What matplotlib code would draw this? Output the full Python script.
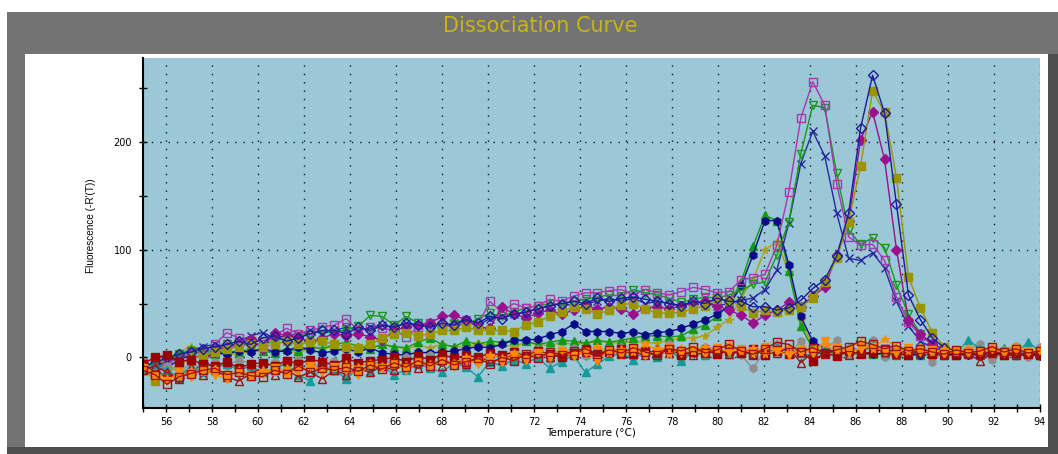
import matplotlib
matplotlib.use('Agg')
import matplotlib.pyplot as plt
from matplotlib.patches import Rectangle
from matplotlib.ticker import MultipleLocator
import numpy as np

# instrument temperature steps (deg C)
temps = np.round(np.linspace(55, 94, 76), 2)

# --- peaked wells ---
sq_mag = [
    -5, -10, -6, 0, 3, 5, 12, 23, 18, 15,
    15, 20, 27, 22, 25, 28, 30, 36, 25, 28,
    27, 25, 19, 28, 32, 30, 28, 35, 30, 52,
    42, 50, 46, 48, 54, 52, 57, 60, 60, 62,
    63, 58, 63, 60, 58, 61, 65, 63, 60, 61,
    72, 74, 77, 104, 154, 222, 256, 234, 161, 112,
    104, 105, 90, 56, 33, 20, 12, 8, 6, 5,
    5, 4, 5, 3, 4, 3]
tri_grn = [
    -8, -5, -2, 3, 6, 4, 8, 12, 10, 14,
    12, 15, 18, 20, 22, 25, 23, 26, 29, 39,
    38, 30, 38, 32, 30, 28, 31, 30, 36, 41,
    38, 42, 46, 48, 50, 49, 52, 54, 56, 58,
    57, 63, 60, 58, 55, 51, 54, 56, 55, 58,
    62, 68, 70, 95, 126, 189, 234, 232, 171, 118,
    105, 111, 102, 67, 40, 22, 12, 8, 6, 5,
    4, 5, 3, 4, 3, 4]
x_navy = [
    -12, -8, -4, 2, 6, 10, 12, 8, 15, 20,
    23, 18, 20, 22, 25, 22, 25, 28, 25, 28,
    30, 28, 32, 30, 30, 28, 32, 35, 30, 36,
    38, 40, 42, 45, 48, 50, 48, 50, 52, 55,
    52, 55, 50, 52, 50, 48, 52, 50, 48, 50,
    53, 55, 63, 81, 125, 180, 210, 187, 134, 92,
    90, 97, 83, 52, 29, 15, 9, 6, 5, 4,
    4, 3, 4, 3, 3, 2]
dia_navy = [
    -8, -5, 0, 3, 5, 8, 10, 12, 15, 12,
    18, 20, 15, 18, 22, 25, 25, 22, 28, 25,
    30, 28, 32, 30, 28, 32, 30, 35, 32, 38,
    36, 40, 42, 45, 48, 50, 52, 50, 55, 52,
    55, 56, 54, 52, 50, 48, 52, 50, 55, 52,
    52, 47, 47, 44, 46, 53, 64, 72, 94, 134,
    213, 262, 227, 142, 58, 35, 18, 9, 6, 5,
    4, 3, 4, 3, 3, 2]
sq_olive = [
    -10, -22, -12, -8, 0, 1, 5, 8, 10, 12,
    10, 12, 15, 12, 14, 15, 12, 10, 9, 12,
    18, 22, 23, 20, 22, 25, 25, 28, 25, 25,
    25, 24, 30, 33, 38, 42, 47, 45, 40, 44,
    49, 50, 45, 41, 41, 42, 45, 48, 54, 52,
    48, 41, 44, 42, 44, 47, 55, 70, 92, 126,
    178, 247, 228, 167, 75, 46, 23, 10, 6, 4,
    4, 3, 4, 3, 3, 2]
dia_mag = [
    -5, -14, -16, -19, -15, -5, 6, 10, 12, 17,
    8, 23, 20, 19, 14, 18, 22, 20, 22, 19,
    16, 25, 28, 30, 32, 38, 39, 35, 28, 27,
    47, 40, 37, 41, 44, 40, 44, 48, 45, 47,
    45, 40, 46, 47, 45, 48, 50, 52, 48, 44,
    39, 32, 39, 44, 51, 47, 57, 65, 95, 127,
    202, 228, 184, 100, 35, 22, 12, 7, 5, 4,
    3, 4, 3, 3, 2, 3]
hex_navy = [
    -8, -12, -10, -2, 2, 0, 4, 3, 6, 5,
    8, 5, 6, 10, 7, 4, 6, 8, 5, 9,
    4, 3, 2, 5, 4, 5, 6, 8, 10, 9,
    12, 16, 16, 17, 21, 24, 31, 24, 24, 24,
    22, 24, 21, 23, 24, 27, 31, 35, 40, 48,
    66, 95, 127, 127, 86, 38, 15, 8, 5, 4,
    4, 3, 4, 3, 3, 2, 3, 2, 3, 2,
    3, 2, 2, 3, 2, 2]
tri_grn_f = [
    -6, -10, -5, 2, 8, 5, 3, 6, 5, 8,
    6, 4, 8, 6, 10, 8, 12, 14, 10, 8,
    12, 10, 9, 14, 18, 12, 10, 15, 12, 15,
    14, 16, 15, 12, 14, 16, 15, 13, 16, 14,
    16, 18, 20, 20, 19, 20, 26, 30, 38, 49,
    70, 103, 132, 127, 80, 29, 8, 5, 4, 3,
    4, 3, 3, 2, 3, 2, 3, 2, 2, 3,
    2, 3, 2, 2, 3, 2]
star_olive = [
    -4, -8, -2, 5, 10, 8, 5, 4, 2, 6,
    5, 8, 6, 4, 9, 8, 10, 7, 10, 9,
    12, 10, 8, 11, 9, 12, 10, 9, 13, 11,
    12, 10, 14, 12, 11, 14, 12, 13, 15, 14,
    13, 15, 14, 13, 16, 18, 18, 20, 28, 35,
    55, 72, 100, 107, 79, 35, 10, 6, 4, 3,
    3, 4, 2, 3, 2, 3, 2, 2, 3, 2,
    2, 3, 2, 2, 3, 2]

# --- flat wells (no product) ---
star_orange = [
    -8, -15, -20, -18, -12, -14, -10, -15, -12, -16,
    -12, -14, -10, -13, -8, -12, -10, -6, -9, -5,
    -8, -4, -7, -3, -6, -2, -5, 0, -3, 2,
    -1, 4, 0, 5, 2, 8, 3, 6, 10, 4,
    8, 5, 12, 7, 3, 9, 6, 10, 8, 12,
    5, 9, 3, 7, 10, 4, 8, 12, 6, 9,
    14, 8, 17, 10, 6, 9, 4, 8, 5, 9,
    6, 10, 7, 11, 6, 8]
vtri_orange = [
    -10, -18, -22, -14, -18, -12, -16, -20, -14, -18,
    -15, -10, -16, -12, -8, -14, -9, -12, -16, -7,
    -10, -6, -12, -4, -9, -3, -8, -2, -6, -1,
    -4, 2, -2, 4, 0, 6, 1, 5, -3, 7,
    3, 8, 2, 6, 10, 4, 7, 3, 9, 5,
    8, 4, 10, 6, 2, 7, 4, 15, 9, 5,
    8, 10, 6, 4, 9, 5, 7, 3, 6, 4,
    5, 8, 4, 7, 5, 6]
sq_red_open = [
    -12, -16, -25, -18, -15, -12, -10, -16, -14, -17,
    -18, -12, -15, -8, -14, -10, -12, -9, -13, -7,
    -11, -5, -9, -3, -8, -2, -7, -4, -1, -6,
    0, -3, 3, -1, 5, 2, 6, 8, 3, 7,
    4, 9, 5, 2, 8, 6, 10, 4, 7, 12,
    6, 3, 8, 14, 12, 5, 9, 4, 7, 10,
    15, 12, 8, 11, 6, 8, 5, 3, 7, 4,
    6, 10, 5, 8, 4, 6]
sq_red = [
    -6, 0, 2, -4, -2, -6, -8, -4, -10, -6,
    -5, -8, -3, -6, -2, -4, -7, -1, -5, -3,
    -2, 0, -4, 1, -2, 3, -1, 2, 0, 4,
    2, 5, 1, 6, 3, 0, 4, 7, 2, 5,
    8, 3, 6, 4, 9, 2, 5, 7, 3, 6,
    4, 8, 2, 6, 3, 5, -3, 4, 1, 6,
    3, 5, 8, 4, 2, 6, 3, 5, 2, 4,
    3, 5, 2, 4, 3, 2]
tri_teal = [
    -10, -6, -12, -18, -8, -14, -10, -6, -12, -8,
    -14, -10, -6, -16, -22, -8, -12, -20, -10, -14,
    -8, -16, -12, -6, -10, -14, -5, -9, -18, -4,
    -8, -2, -6, 0, -10, -4, 2, -14, -6, 1,
    4, -2, 6, 0, 8, -3, 5, 2, 7, 3,
    5, 8, 2, 10, 6, 4, 1, 8, 3, 10,
    6, 12, 4, 9, 2, 7, 3, 6, 4, 16,
    8, 5, 9, 4, 14, 6]
hex_gray = [
    -4, -12, -8, -14, -6, -10, -4, -8, -2, -6,
    -10, -4, -8, -2, -6, -10, -3, -20, -5, -8,
    -2, -6, 0, -4, 2, -2, -8, 1, -4, 3,
    -1, 5, 2, 8, -2, 4, 9, 1, 6, 3,
    10, 0, 7, 3, 12, -2, 6, 10, 4, 8,
    2, -10, 6, 12, 3, 15, 0, 8, 16, 2,
    5, 16, 0, 4, 3, 10, -4, 7, 2, 8,
    12, -2, 5, 11, 0, 10]
tri_red_open = [
    -12, -8, -14, -20, -10, -16, -12, -18, -22, -15,
    -10, -16, -12, -18, -14, -20, -12, -16, -10, -14,
    -8, -12, -6, -10, -4, -8, -2, -6, 0, -3,
    -2, 3, -1, 4, 0, 6, 2, 5, 1, 7,
    3, 6, 2, 8, 4, 7, 2, 5, 8, 3,
    6, 2, 7, 4, 9, -5, 5, 3, 7, 2,
    6, 10, 5, 3, 7, 4, 6, 2, 5, 3,
    -3, 4, 6, 2, 5, 3]

# (values, colour, marker, filled)
series = [
    (star_olive, '#ada012', '*', True),
    (tri_grn_f, '#129a12', '^', True),
    (hex_navy, '#0a0a88', 'h', True),
    (x_navy, '#2828a0', 'x', True),
    (tri_grn, '#189818', 'v', False),
    (sq_mag, '#a838ac', 's', False),
    (dia_mag, '#9a108e', 'D', True),
    (sq_olive, '#9a9400', 's', True),
    (dia_navy, '#1c1c98', 'D', False),
    (hex_gray, '#8e8e8e', 'h', True),
    (tri_teal, '#159a9a', '^', True),
    (sq_red, '#9a0000', 's', True),
    (tri_red_open, '#a01010', '^', False),
    (vtri_orange, '#ff8a00', 'v', True),
    (star_orange, '#ff8a00', '*', True),
    (sq_red_open, '#a01010', 's', False),
]

W, H = 1058.0, 454.0
fig = plt.figure(figsize=(W / 100, H / 100), dpi=100)
fig.patch.set_facecolor('white')


def box(x0, y0, x1, y1, color):
    # pixel box -> figure fraction
    fig.add_artist(Rectangle((x0 / W, 1 - y1 / H), (x1 - x0) / W, (y1 - y0) / H,
                             transform=fig.transFigure, facecolor=color,
                             edgecolor='none', zorder=-10))


box(7, 12, W, H, '#737373')
box(7, 447, W, H, '#4e4e4e')
box(1048, 54, W, H, '#4e4e4e')
box(25, 54, 1048, 447, 'white')

fig.text(540 / W, 1 - 26 / H, 'Dissociation Curve', color='#c8b416',
         fontsize=15, ha='center', va='center')

ax = fig.add_axes([143 / W, 1 - 408 / H, 897 / W, 350 / H])
ax.set_facecolor('#9cc7d6')

for vals, col, mk, filled in series:
    ax.plot(temps, vals, color=col, lw=1, marker=mk, ms=5.5, mew=1,
            mec=col, mfc=col if filled else 'none')

ax.set_xlim(55, 94)
ax.set_ylim(-47, 278)
ax.xaxis.set_major_locator(MultipleLocator(2))
ax.xaxis.set_minor_locator(MultipleLocator(1))
ax.yaxis.set_major_locator(MultipleLocator(100))
ax.yaxis.set_minor_locator(MultipleLocator(50))
ax.tick_params(which='both', direction='inout', length=6, width=1,
               labelsize=7)
ax.tick_params(axis='y', pad=5)
ax.grid(True, which='major', color='#1a1a1a', linestyle=(0, (1, 5)), lw=1)
ax.set_axisbelow(True)
for s in ['top', 'right']:
    ax.spines[s].set_visible(False)
for s in ['left', 'bottom']:
    ax.spines[s].set_linewidth(1.5)

fig.text(591 / W, 1 - 433 / H, 'Temperature (°C)', fontsize=7.5,
         ha='center', va='center')
fig.text(91 / W, 1 - 226 / H, "Fluorescence (-R'(T))", fontsize=7.2,
         rotation=90, ha='center', va='center',
         family=['Liberation Sans Narrow', 'Liberation Sans'])

fig.savefig('out.png', dpi=100)
